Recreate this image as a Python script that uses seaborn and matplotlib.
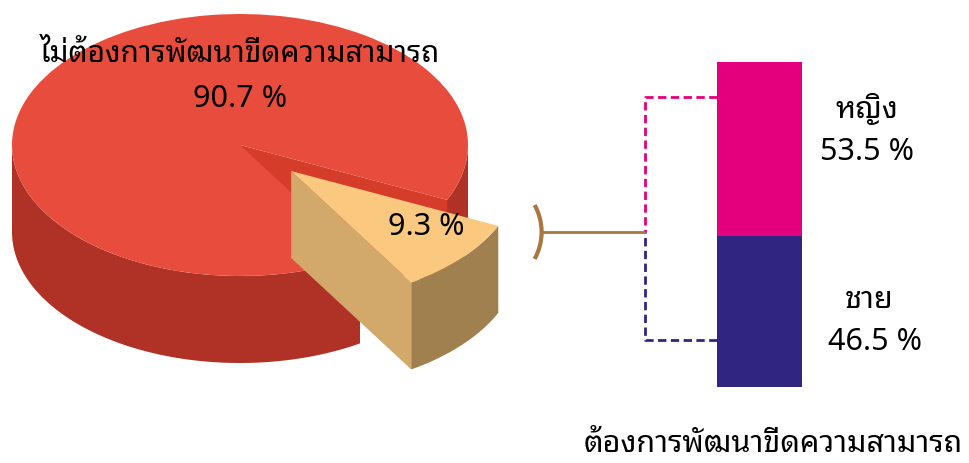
import numpy as np
import seaborn as sns
import matplotlib
matplotlib.use('Agg')
import matplotlib.pyplot as plt
from matplotlib.patches import Polygon, Arc
from matplotlib.transforms import Affine2D

# data
pie_labels = ['ต้องการพัฒนาขีดความสามารถ', 'ไม่ต้องการพัฒนาขีดความสามารถ']
pie_share = [9.3, 90.7]
gender_labels = ['หญิง', 'ชาย']
gender_share = [53.5, 46.5]

# colours
TOP = ['#FAC87E', '#E84C3D']
WALL = ['#A0804F', '#B03125']
CUT = ['#D3A86B', '#D63C2A']
PINK = '#E4007C'
NAVY = '#302682'
TAN_LINE = '#A8773F'

W, H = 969, 464
sns.set_theme(style='white')
plt.rcParams['font.family'] = ['Noto Sans Thai Looped', 'DejaVu Sans']
plt.rcParams['text.color'] = 'black'

fig = plt.figure(figsize=(W / 100, H / 100), dpi=100)
ax = fig.add_axes([0, 0, 1, 1])

# 3d pie: unit pie squashed into an ellipse, pixel coordinates
cx, cy, a, b, depth = 240, 146, 228, 131, 87
mid = -41.5  # direction of the exploded slice
start = mid - 360 * pie_share[0] / sum(pie_share) / 2
wedges, _ = ax.pie(pie_share, startangle=start, explode=[0.3, 0],
                   colors=TOP, wedgeprops=dict(linewidth=0))
ax.set_xlim(0, W)
ax.set_ylim(H, 0)
ax.set_aspect('auto')
ax.axis('off')

to_px = Affine2D().scale(a, -b).translate(cx, cy)


def rim(center, angles):
    t = np.radians(angles)
    pts = np.column_stack([center[0] + np.cos(t), center[1] + np.sin(t)])
    return to_px.transform(pts)


def arc_range(t1, t2):
    # visible front part (180..360) of a wedge running from t1 to t2
    out = []
    for lo, hi in [(180, 360), (-180, 0), (540, 720)]:
        s, e = max(t1, lo), min(t2, hi)
        if e > s:
            out.append(np.linspace(s, e, 80))
    return out


# big red part at the back, exploded slice drawn over it
zbase = {1: 2, 0: 5}
for i, w in enumerate(wedges):
    z = zbase[i]
    t1, t2 = w.theta1, w.theta2
    c = np.array(w.center)
    c_px = to_px.transform([c])[0]
    # cut face at the wedge start (faces the viewer)
    p = rim(c, [t1])[0]
    face = [c_px, p, p + [0, depth], c_px + [0, depth]]
    ax.add_patch(Polygon(face, closed=True, color=CUT[i], lw=0, zorder=z))
    # outer wall
    for seg in arc_range(t1, t2):
        top = rim(c, seg)
        poly = np.vstack([top, top[::-1] + [0, depth]])
        ax.add_patch(Polygon(poly, closed=True, color=WALL[i], lw=0, zorder=z))
    w.set_transform(to_px + ax.transData)
    w.set_zorder(z + 1)

# labels on pie
ax.text(240, 62, pie_labels[1], ha='center', va='baseline', fontsize=21.5, zorder=10)
ax.text(240, 107, f'{pie_share[1]} %', ha='center', va='baseline', fontsize=22, zorder=10)
ax.text(426, 235, f'{pie_share[0]} %', ha='center', va='baseline', fontsize=22, zorder=10)

# stacked bar for the split of the small slice
bx0, bx1, by0, by1 = 717, 802, 388, 63
ax_bar = fig.add_axes([bx0 / W, 1 - by0 / H, (bx1 - bx0) / W, (by0 - by1) / H])
cum = np.cumsum(gender_share[::-1])[::-1]  # top segment drawn full height first
for val, col in zip(cum, [PINK, NAVY]):
    sns.barplot(x=[0], y=[val], color=col, saturation=1, width=1,
                linewidth=0, ax=ax_bar)
ax_bar.set_xlim(-0.5, 0.5)
ax_bar.set_ylim(0, sum(gender_share))
ax_bar.axis('off')

ax.text(867, 118, gender_labels[0], ha='center', va='baseline', fontsize=22)
ax.text(867, 160, f'{gender_share[0]} %', ha='center', va='baseline', fontsize=22)
ax.text(869, 308, gender_labels[1], ha='center', va='baseline', fontsize=22)
ax.text(875, 350, f'{gender_share[1]} %', ha='center', va='baseline', fontsize=22)
ax.text(773, 452, pie_labels[0], ha='center', va='baseline', fontsize=22)

# connectors
jx, jy = 645, 233
ax.plot([bx0, jx, jx], [98, 98, jy], color=PINK, lw=2, ls=(0, (3, 1.6)))
ax.plot([bx0, jx, jx], [341, 341, jy], color=NAVY, lw=2, ls=(0, (3, 1.6)))
ax.plot([541, jx], [jy, jy], color=TAN_LINE, lw=2, solid_capstyle='butt')
ax.add_patch(Arc((486, jy), 2 * 55.6, 2 * 55.6, theta1=-29, theta2=29,
                 color=TAN_LINE, lw=3))

fig.savefig('out.png', dpi=100)
